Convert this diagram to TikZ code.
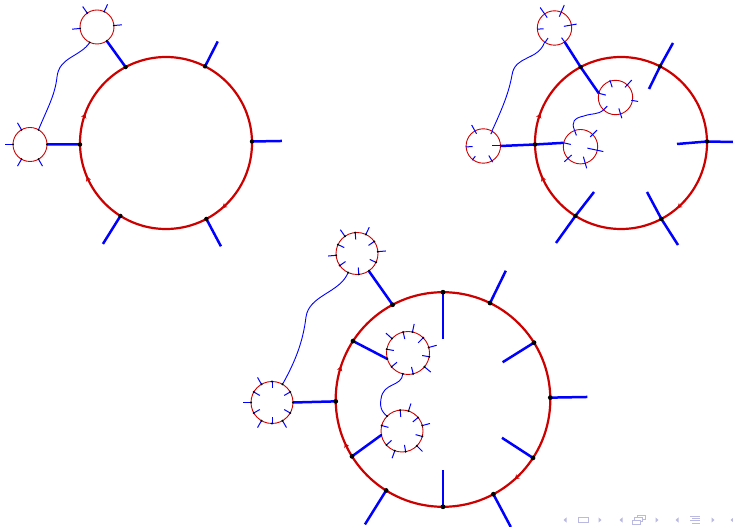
\documentclass[tikz,border=0pt]{standalone}
\usetikzlibrary{calc,arrows.meta}
\definecolor{rred}{RGB}{205,0,0}
\definecolor{bblue}{RGB}{0,0,255}
\definecolor{navc}{RGB}{185,185,225}
\tikzset{
  bigc/.style={circle, draw=rred, line width=2.2pt, inner sep=0pt, outer sep=0pt},
  smallc/.style={circle, draw=rred, line width=0.9pt, inner sep=0pt, outer sep=0pt, minimum size=#1},
  legline/.style={draw=bblue, line width=2.5pt},
  tickline/.style={draw=bblue, line width=1pt},
  wire/.style={draw=bblue, line width=0.9pt},
  redmark/.style={draw=rred, line width=1pt, -{Stealth[length=4.5pt,width=5.5pt]}},
  navline/.style={draw=navc, line width=0.7pt},
}
\begin{document}
\begin{tikzpicture}[x=1pt,y=1pt]
\useasboundingbox (0,0) rectangle (733,527);

% ================= Panel 1 =================
\node[bigc, minimum size=172pt] (B1) at (166,384) {};
\node[smallc=34pt] (S1a) at (97,500) {};
\node[smallc=34pt] (S1b) at (30,382.5) {};
\foreach \ang in {166,209} \draw[redmark] (B1.\ang) arc[start angle=\ang, end angle=\ang-6, radius=86];
\draw[redmark] (B1.317) arc[start angle=317, end angle=311, radius=86];
\foreach \ang/\len in {1/30,63/28,238/33,298/31}
  \draw[legline] (B1.\ang) -- ($(B1.\ang)+(\ang:\len)$);
\draw[legline] (B1.118) -- (S1a.305);
\draw[legline] (B1.181) -- (S1b.0);
\foreach \ang in {5,65,125,185}
  \draw[tickline] (S1a.\ang) -- ($(S1a.center)!1.47!(S1a.\ang)$);
\foreach \ang in {120,180,240,300}
  \draw[tickline] (S1b.\ang) -- ($(S1b.center)!1.47!(S1b.\ang)$);
\draw[wire] (S1b.60) .. controls (48,420) and (55,432) .. (57,450)
  .. controls (59,470) and (80,470) .. (S1a.245);
\foreach \ang in {1,63,118,181,238,298} \fill (B1.\ang) circle (2.2pt);
\foreach \ang in {5,65,125,185,245,305} \fill (S1a.\ang) circle (1pt);
\foreach \ang in {0,60,120,180,240,300} \fill (S1b.\ang) circle (1pt);

% ================= Panel 2 =================
\node[bigc, minimum size=172pt] (B2) at (621,384) {};
\node[smallc=34.4pt] (S2a) at (554.5,499) {};
\node[smallc=34.4pt] (S2b) at (483.3,381) {};
\node[smallc=34.4pt] (S2c) at (615.5,429.5) {};
\node[smallc=34.4pt] (S2d) at (580.5,380.3) {};
\foreach \ang in {166,209} \draw[redmark] (B2.\ang) arc[start angle=\ang, end angle=\ang-6, radius=86];
\draw[redmark] (B2.317) arc[start angle=317, end angle=311, radius=86];
\coordinate (q1o) at (733,385); \coordinate (q1i) at (677,383);
\coordinate (q2o) at (673,484); \coordinate (q2i) at (649,438);
\coordinate (q3o) at (556,284); \coordinate (q3i) at (594,335);
\coordinate (q4o) at (678,282); \coordinate (q4i) at (647,335);
\draw[legline] (q1i) -- (B2.1) -- (q1o);
\draw[legline] (q2i) -- (B2.63) -- (q2o);
\draw[legline] (q3i) -- (B2.238) -- (q3o);
\draw[legline] (q4i) -- (B2.298) -- (q4o);
\draw[legline] (S2a.306) -- (B2.118) -- (S2c.166);
\draw[legline] (S2b.0) -- (B2.181) -- (S2d.167);
\foreach \ang/\ri/\ro in {125/12.7/25, 67/12.3/25, 10/9.5/22.5, 184/11/17.5, 237/12/17.2, 306/12/17.2}
  \draw[tickline] ($(S2a.center)+(\ang:\ri)$) -- ($(S2a.center)+(\ang:\ro)$);
\foreach \ang/\ri/\ro in {119/14/24, 58/14/17.3, 183/10.6/17.6, 232/13/18, 300/11/18.6, 0/9/17.3}
  \draw[tickline] ($(S2b.center)+(\ang:\ri)$) -- ($(S2b.center)+(\ang:\ro)$);
\foreach \ang/\ri/\ro in {108/10.7/18.4, 47/13.9/23.8, 350/16/23, 287/11.4/21.7, 226/12/17.2, 166/10/17.2}
  \draw[tickline] ($(S2c.center)+(\ang:\ri)$) -- ($(S2c.center)+(\ang:\ro)$);
\foreach \ang/\ri/\ro in {45/13.8/23.3, 348/7/23.3, 286/10.4/22.5, 223/12.1/22, 110/12/17.2, 167/10/17.2}
  \draw[tickline] ($(S2d.center)+(\ang:\ri)$) -- ($(S2d.center)+(\ang:\ro)$);
\draw[wire] (S2b.60) .. controls (503,420) and (509,435) .. (512,452)
  .. controls (515,472) and (538,466) .. (S2a.235);
\draw[wire] (S2c.226) .. controls (598,412) and (592,414) .. (584,411)
  .. controls (574,409) and (571,405) .. (S2d.110);
\foreach \ang in {1,63,118,181,238,298} \fill (B2.\ang) circle (2.2pt);

% ================= Panel 3 =================
\node[bigc, minimum size=214.6pt] (B3) at (443,127.5) {};
\node[smallc=42pt] (S3a) at (357,273.5) {};
\node[smallc=42pt] (S3b) at (272,124.5) {};
\node[smallc=43pt] (S3c) at (408,174) {};
\node[smallc=42pt] (S3d) at (402,96) {};
\foreach \ang in {167,209} \draw[redmark] (B3.\ang) arc[start angle=\ang, end angle=\ang-5, radius=107.3];
\draw[redmark] (B3.317) arc[start angle=317, end angle=312, radius=107.3];
\foreach \ang/\len in {1/37,64/36,238/40,298/37}
  \draw[legline] (B3.\ang) -- ($(B3.\ang)+(\ang:\len)$);
\foreach \ang/\len in {32/37,90/47,270/37,327/37}
  \draw[legline] (B3.\ang) -- ($(B3.\ang)+({\ang+180}:\len)$);
\draw[legline] (B3.118) -- (S3a.304);
\draw[legline] (B3.147) -- (S3c.196);
\draw[legline] (B3.181) -- (S3b.0);
\draw[legline] (B3.212) -- (S3d.191);
\foreach \ang in {5,65,125,185}
  \draw[tickline] (S3a.\ang) -- ($(S3a.center)!1.38!(S3a.\ang)$);
\foreach \ang in {35,95,155,215,275,335}
  \draw[tickline] (S3a.\ang) -- ($(S3a.center)!0.67!(S3a.\ang)$);
\foreach \ang in {120,180,240,300}
  \draw[tickline] (S3b.\ang) -- ($(S3b.center)!1.38!(S3b.\ang)$);
\foreach \ang in {30,90,150,210,270,330}
  \draw[tickline] (S3b.\ang) -- ($(S3b.center)!0.67!(S3b.\ang)$);
\foreach \ang in {15,78,138,320}
  \draw[tickline] (S3c.\ang) -- ($(S3c.center)!1.38!(S3c.\ang)$);
\foreach \ang in {45,103,170,220,284,350}
  \draw[tickline] (S3c.\ang) -- ($(S3c.center)!0.67!(S3c.\ang)$);
\foreach \ang in {15,72,250,315}
  \draw[tickline] (S3d.\ang) -- ($(S3d.center)!1.38!(S3d.\ang)$);
\foreach \ang in {40,95,165,222,280,345}
  \draw[tickline] (S3d.\ang) -- ($(S3d.center)!0.67!(S3d.\ang)$);
\draw[wire] (S3b.60) .. controls (295,165) and (303,185) .. (306,210)
  .. controls (309,232) and (340,234) .. (S3a.245);
\draw[wire] (S3c.256) .. controls (402,140) and (383,145) .. (381,128)
  .. controls (379,118) and (384,113) .. (S3d.135);
\foreach \ang in {1,32,64,90,118,147,181,212,238,270,298,327} \fill (B3.\ang) circle (2.4pt);
\foreach \ang in {5,35,65,95,125,155,185,215,245,275,305,335} \fill (S3a.\ang) circle (1.1pt);
\foreach \ang in {0,30,60,90,120,150,180,210,240,270,300,330} \fill (S3b.\ang) circle (1.1pt);
\foreach \ang in {15,45,78,103,138,170,196,220,256,284,320,350} \fill (S3c.\ang) circle (1.1pt);
\foreach \ang in {15,40,72,95,135,165,191,222,250,280,315,345} \fill (S3d.\ang) circle (1.1pt);

% ================= navigation symbols =================
\foreach \xc in {565,621,677,732}
  \fill[navc] (\xc+1.5,9.6) -- (\xc-1.5,7) -- (\xc+1.5,4.4) -- cycle;
\foreach \xc in {600,657,713}
  \fill[navc] (\xc-1.5,9.6) -- (\xc+1.5,7) -- (\xc-1.5,4.4) -- cycle;
\draw[navline] (578,4.5) rectangle (588,9.5);
\filldraw[navline, fill=white] (637,7.5) rectangle (645,11.5);
\filldraw[navline, fill=white] (634.5,5.2) rectangle (642.5,9.2);
\filldraw[navline, fill=white] (632,3) rectangle (640,7);
\draw[navline] (690,11) -- (700,11);
\draw[navline] (692,8.6) -- (700,8.6);
\draw[navline] (690,6.2) -- (700,6.2);
\draw[navline] (692,3.8) -- (700,3.8);
\end{tikzpicture}
\end{document}
